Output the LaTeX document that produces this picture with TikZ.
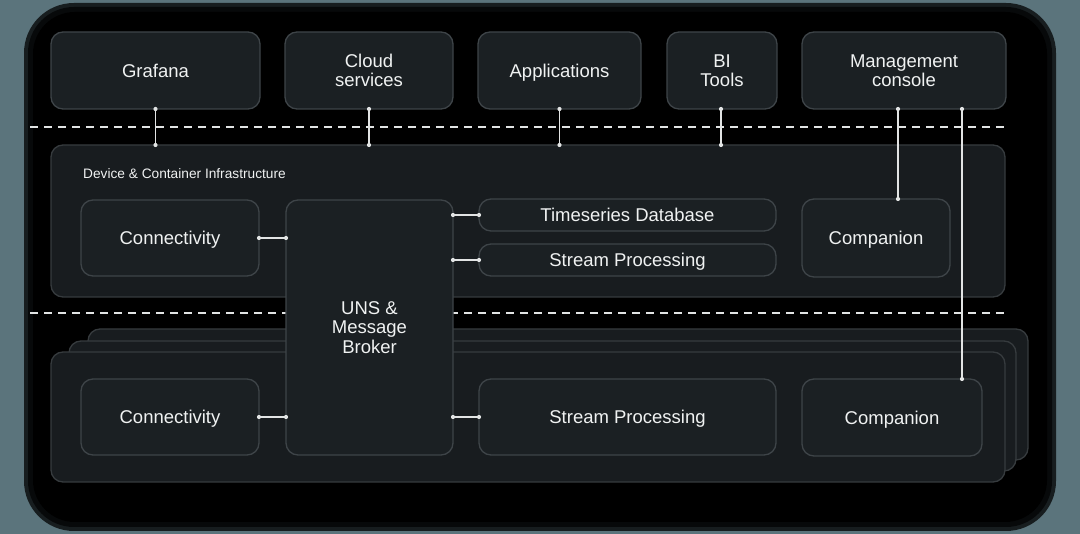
\documentclass[tikz,border=0pt]{standalone}
\usepackage{fontspec}
\setmainfont{Liberation Sans}
\definecolor{outerbg}{HTML}{5B747C}
\definecolor{boxfill}{HTML}{1B2023}
\definecolor{boxline}{HTML}{3E4448}
\definecolor{panelfill}{HTML}{181C1F}
\definecolor{panelline}{HTML}{363B3E}
\definecolor{txt}{HTML}{F0F2F2}
\definecolor{linec}{HTML}{E2E4E4}
\tikzset{
  base/.style={rounded corners=12pt, inner sep=0pt, outer sep=0pt, line width=1.3pt, text=txt, align=center},
  box/.style={base, fill=boxfill, draw=boxline, text depth=0pt, font=\fontsize{18.5}{19.5}\selectfont},
  panel/.style={base, fill=panelfill, draw=panelline},
  conn/.style={draw=linec, line width=1.3pt},
  enddot/.style={fill=linec},
  dashline/.style={draw=linec, line width=2.6pt, dash pattern=on 8pt off 6pt},
  small/.style={text=txt, inner sep=0pt, anchor=west, font=\fontsize{13.7}{15}\selectfont}
}
\begin{document}
\begin{tikzpicture}[x=1pt,y=1pt]
\useasboundingbox (0,0) rectangle (1080,-534);
% background
\fill[outerbg] (0,0) rectangle (1080,-534);
\fill[black!75!outerbg, rounded corners=50pt] (24,-3) rectangle (1056,-531);
\fill[black!92!outerbg, rounded corners=46pt] (28,-7) rectangle (1052,-527);
\fill[black, rounded corners=42pt] (33,-12) rectangle (1047,-522);
% dashed separators
\coordinate (d1a) at (30,-127);
\coordinate (d1b) at (1005,-127);
\coordinate (d2a) at (30,-313);
\coordinate (d2b) at (1005,-313);
\draw[dashline] (d1a) -- (d1b);
\draw[dashline] (d2a) -- (d2b);
% top row
\node[box, minimum width=209pt, minimum height=77pt] (grafana) at (155.5,-70.5) {Grafana};
\node[box, minimum width=168pt, minimum height=77pt] (cloud) at (369,-70.5) {Cloud\\services};
\node[box, minimum width=163pt, minimum height=77pt] (apps) at (559.5,-70.5) {Applications};
\node[box, minimum width=110pt, minimum height=77pt] (bi) at (722,-70.5) {BI\\Tools};
\node[box, minimum width=204pt, minimum height=77pt] (mgmt) at (904,-70.5) {Management\\console};
% device stack (back to front)
\node[panel, minimum width=940pt, minimum height=131pt] (stackc) at (558,-394.5) {};
\node[panel, minimum width=947pt, minimum height=130pt] (stackb) at (542.5,-406) {};
\node[panel, minimum width=954pt, minimum height=130pt] (stacka) at (528,-417) {};
% infrastructure panel
\node[panel, minimum width=954pt, minimum height=152pt] (infra) at (528,-221) {};
\node[small] (infralabel) at (83,-174) {Device \& Container Infrastructure};
% inner boxes upper
\node[box, minimum width=178pt, minimum height=76pt] (connT) at (170,-238) {Connectivity};
\node[box, minimum width=297pt, minimum height=32pt] (ts) at (627.5,-215) {Timeseries Database};
\node[box, minimum width=297pt, minimum height=32pt] (spT) at (627.5,-260) {Stream Processing};
\node[box, minimum width=148pt, minimum height=78pt] (compT) at (876,-238) {Companion};
% inner boxes lower
\node[box, minimum width=178pt, minimum height=76pt] (connB) at (170,-417) {Connectivity};
\node[box, minimum width=297pt, minimum height=76pt] (spB) at (627.5,-417) {Stream Processing};
\node[box, minimum width=180pt, minimum height=77pt] (compB) at (892,-417.5) {Companion};
% UNS
\node[box, minimum width=167pt, minimum height=255pt] (uns) at (369.5,-327.5) {UNS \&\\Message\\Broker};
% connectors top
\draw[conn] (grafana.south) -- (grafana.south |- infra.north);
\fill[enddot] (grafana.south) circle (2.1pt) (grafana.south |- infra.north) circle (2.1pt);
\draw[conn] (cloud.south) -- (cloud.south |- infra.north);
\fill[enddot] (cloud.south) circle (2.1pt) (cloud.south |- infra.north) circle (2.1pt);
\draw[conn] (apps.south) -- (apps.south |- infra.north);
\fill[enddot] (apps.south) circle (2.1pt) (apps.south |- infra.north) circle (2.1pt);
\draw[conn] ([xshift=-1pt]bi.south) -- ([xshift=-1pt]bi.south |- infra.north);
\fill[enddot] ([xshift=-1pt]bi.south) circle (2.1pt) ([xshift=-1pt]bi.south |- infra.north) circle (2.1pt);
\draw[conn] ([xshift=-6pt]mgmt.south) -- ([xshift=-6pt]mgmt.south |- compT.north);
\fill[enddot] ([xshift=-6pt]mgmt.south) circle (2.1pt) ([xshift=-6pt]mgmt.south |- compT.north) circle (2.1pt);
\draw[conn] ([xshift=58pt]mgmt.south) -- ([xshift=58pt]mgmt.south |- compB.north);
\fill[enddot] ([xshift=58pt]mgmt.south) circle (2.1pt) ([xshift=58pt]mgmt.south |- compB.north) circle (2.1pt);
% connectors inner
\draw[conn] (connT.east) -- (connT.east -| uns.west);
\fill[enddot] (connT.east) circle (2.1pt) (connT.east -| uns.west) circle (2.1pt);
\draw[conn] (uns.east |- ts.west) -- (ts.west);
\fill[enddot] (uns.east |- ts.west) circle (2.1pt) (ts.west) circle (2.1pt);
\draw[conn] (uns.east |- spT.west) -- (spT.west);
\fill[enddot] (uns.east |- spT.west) circle (2.1pt) (spT.west) circle (2.1pt);
\draw[conn] (connB.east) -- (connB.east -| uns.west);
\fill[enddot] (connB.east) circle (2.1pt) (connB.east -| uns.west) circle (2.1pt);
\draw[conn] (uns.east |- spB.west) -- (spB.west);
\fill[enddot] (uns.east |- spB.west) circle (2.1pt) (spB.west) circle (2.1pt);
\end{tikzpicture}
\end{document}
